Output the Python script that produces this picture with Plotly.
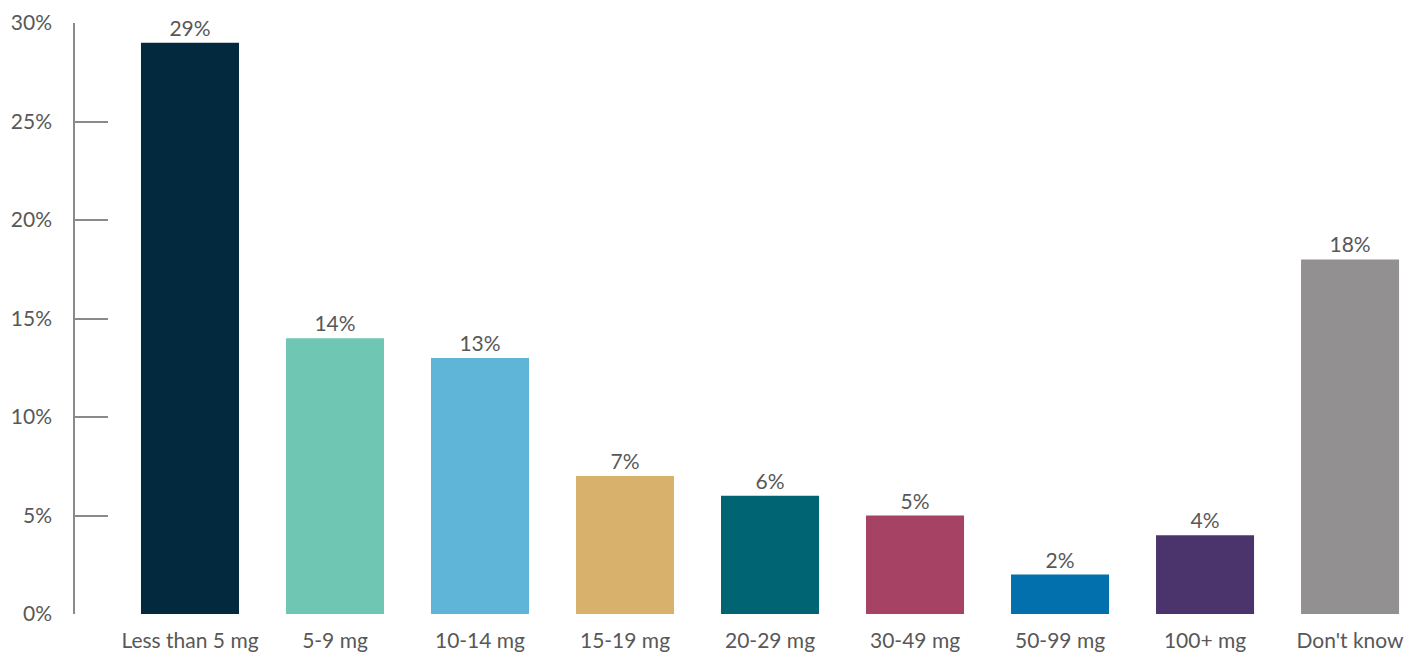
import plotly.graph_objects as go

categories = ["Less than 5 mg", "5-9 mg", "10-14 mg", "15-19 mg", "20-29 mg",
              "30-49 mg", "50-99 mg", "100+ mg", "Don't know"]
values = [29, 14, 13, 7, 6, 5, 2, 4, 18]
colors = ["#03293f", "#6fc7b3", "#5eb5d8", "#d8b16c", "#006472",
          "#a64364", "#0270ad", "#4b346c", "#929091"]
y_ticks = [0, 5, 10, 15, 20, 25, 30]
y_tick_labels = [f"{v}%" for v in y_ticks]

FONT = "Lato, 'Open Sans', sans-serif"
TXT = "#585858"
SIZE = 21

fig = go.Figure(go.Bar(
    x=categories,
    y=values,
    marker=dict(color=colors, line=dict(width=0)),
    text=[f"{v}%" for v in values],
    textposition="outside",
    textfont=dict(family=FONT, size=SIZE, color=TXT),
    cliponaxis=False,
    hoverinfo="skip",
))

# page body has an 8px margin, so the figure is sized/offset to compensate
fig.update_layout(
    width=1416, height=648,
    margin=dict(l=67, r=0, t=15, b=42),
    paper_bgcolor="white", plot_bgcolor="white",
    bargap=0.324,
    showlegend=False,
    font=dict(family=FONT, size=SIZE, color=TXT),
)
fig.update_xaxes(
    type="category",
    range=[-0.793, 8.51],
    showgrid=False, showline=False, zeroline=False,
    ticks="", ticklabelstandoff=12,
    tickfont=dict(family=FONT, size=SIZE, color=TXT),
)
fig.update_yaxes(
    range=[0, 30],
    tickvals=y_ticks, ticktext=y_tick_labels,
    showgrid=False, zeroline=False,
    showline=True, linecolor="#8a8a8a", linewidth=1.5,
    ticks="inside", ticklen=33, tickcolor="#8a8a8a", tickwidth=1.5,
    ticklabelstandoff=17,
    tickfont=dict(family=FONT, size=SIZE, color=TXT),
)

fig.write_html("out.html")
